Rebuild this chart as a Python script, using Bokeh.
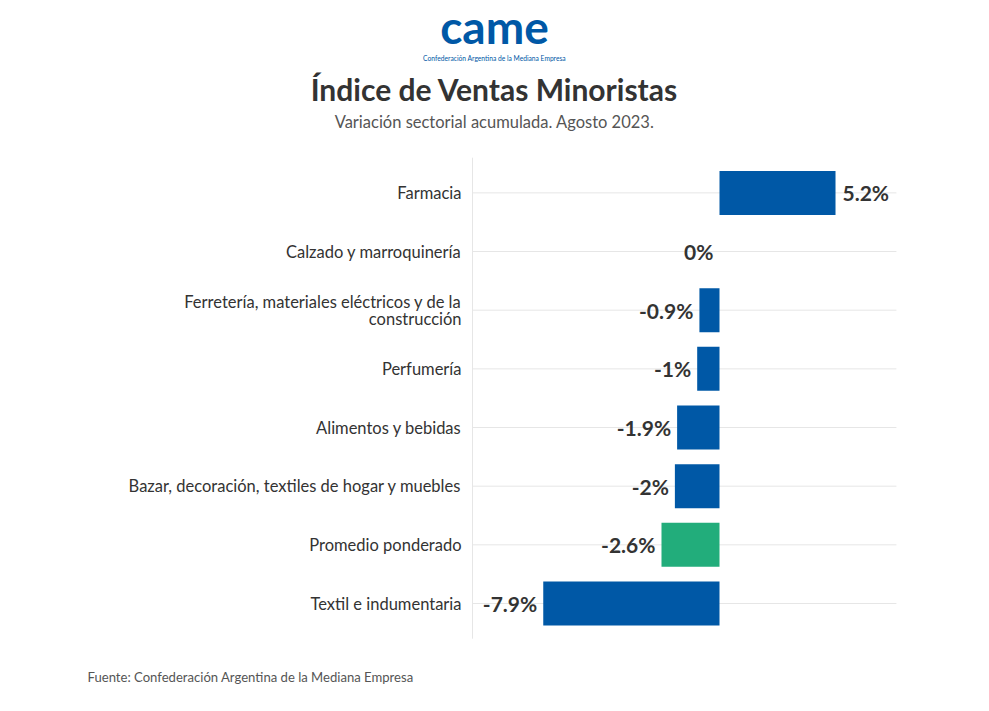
from bokeh.plotting import figure
from bokeh.models import ColumnDataSource, Range1d
from bokeh.core.properties import value
from bokeh.embed import file_html
from bokeh.resources import INLINE

categories = [
    "Farmacia",
    "Calzado y marroquinería",
    "Ferretería, materiales eléctricos y de la\nconstrucción",
    "Perfumería",
    "Alimentos y bebidas",
    "Bazar, decoración, textiles de hogar y muebles",
    "Promedio ponderado",
    "Textil e indumentaria",
]
values = [5.2, 0.0, -0.9, -1.0, -1.9, -2.0, -2.6, -7.9]
value_labels = ["5.2%", "0%", "-0.9%", "-1%", "-1.9%", "-2%", "-2.6%", "-7.9%"]
highlight = "Promedio ponderado"

title_text = "Índice de Ventas Minoristas"
subtitle_text = "Variación sectorial acumulada. Agosto 2023."
logo_text = "came"
logo_sub = "Confederación Argentina de la Mediana Empresa"
source_text = "Fuente: Confederación Argentina de la Mediana Empresa"

# value axis limits of the plotting area
XMIN, XMAX = -11.07, 7.93

BLUE = "#0058A6"
GREEN = "#22AD7B"
FONT = "Lato"
W, H = 985, 705

# page layout: pixels per unit and pixel of zero / of category 0
PXU_X, X0_PX = 22.31, 719.0
PXU_Y, Y0_PX = 58.66, 603.0


def px2x(px):
    return (px - X0_PX) / PXU_X


def py2y(py):
    return (Y0_PX - py) / PXU_Y


p = figure(width=W, height=H, output_backend="svg", toolbar_location=None,
           x_range=Range1d(px2x(0), px2x(W)), y_range=Range1d(py2y(H), py2y(0)),
           min_border=0)
p.axis.visible = False
p.grid.visible = False
p.outline_line_color = None

n = len(categories)
ys = list(range(n))[::-1]
colors = [GREEN if c == highlight else BLUE for c in categories]
aligns = ["left" if v > 0 else "right" for v in values]
xoffs = [7 if v > 0 else -6 for v in values]

src = ColumnDataSource(dict(y=ys, v=values, color=colors, label=value_labels,
                            align=aligns, xoff=xoffs, cat=categories,
                            x0=[XMIN] * n, x1=[XMAX] * n))

# grid lines and axis line
p.segment(x0="x0", y0="y", x1="x1", y1="y", source=src, line_color="#e6e6e6",
          line_width=1)
p.segment(x0=[XMIN], y0=[min(ys) - 0.6], x1=[XMIN], y1=[max(ys) + 0.6],
          line_color="#e6e6e6", line_width=1)

# bars and value labels
p.hbar(y="y", left=0, right="v", height=0.75, fill_color="color",
       line_color=None, source=src)
p.text(x="v", y="y", text="label", source=src, text_align="align",
       x_offset="xoff", text_baseline="middle", text_font=value(FONT),
       text_font_style="bold", text_font_size="21px", text_color="#333333")

# category labels
p.text(x="x0", y="y", text="cat", source=src, text_align="right", x_offset=-11,
       text_baseline="middle", text_font=value(FONT), text_font_size="16.5px",
       text_line_height=0.85, text_color="#333333")

# header
cx = px2x(494)
p.text(x=[cx], y=[py2y(26)], text=[logo_text], text_align="center",
       text_baseline="middle", text_font=value(FONT), text_font_style="bold",
       text_font_size="46px", text_color=BLUE)
p.text(x=[cx], y=[py2y(57)], text=[logo_sub], text_align="center",
       text_baseline="middle", text_font=value(FONT), text_font_size="6.7px",
       text_color=BLUE)
p.text(x=[cx], y=[py2y(88)], text=[title_text], text_align="center",
       text_baseline="middle", text_font=value(FONT), text_font_style="bold",
       text_font_size="30px", text_color="#333333")
p.text(x=[cx], y=[py2y(121)], text=[subtitle_text], text_align="center",
       text_baseline="middle", text_font=value(FONT), text_font_size="16.5px",
       text_color="#555555")

# footer
p.text(x=[px2x(87)], y=[py2y(676)], text=[source_text], text_align="left",
       text_baseline="middle", text_font=value(FONT), text_font_size="13.1px",
       text_color="#555555")

open("out.html", "w").write(file_html(p, INLINE))
